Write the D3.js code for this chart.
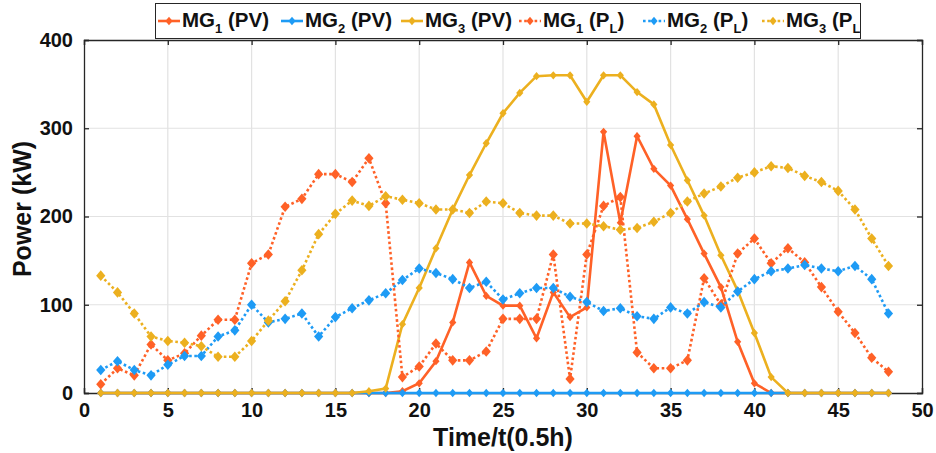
<!DOCTYPE html>
<html><head><meta charset="utf-8">
<script src="https://cdn.jsdelivr.net/npm/d3@7"></script>
<style>body{margin:0;background:#fff}svg{display:block;font-family:"Liberation Sans",Arial,sans-serif;font-weight:bold}</style>
</head><body><svg id="c" width="936" height="453"></svg>
<script>
const time = d3.range(1, 49);
const mg1PV = [0,0,0,0,0,0,0,0,0,0,0,0,0,0,0,0,0,0,2,11,36,80,148,110,99,99,62,114,86,97,296,193,291,254,235,197,158,120,58,11,0,0,0,0,0,0,0,0];
const mg2PV = [0,0,0,0,0,0,0,0,0,0,0,0,0,0,0,0,0,0,0,0,0,0,0,0,0,0,0,0,0,0,0,0,0,0,0,0,0,0,0,0,0,0,0,0,0,0,0,0];
const mg3PV = [0,0,0,0,0,0,0,0,0,0,0,0,0,0,0,0,2,5,78,119,164,208,247,283,317,340,359,360,360,330,360,360,341,327,281,241,201,156,116,68,18,0,0,0,0,0,0,0];
const mg1PL = [10,28,20,55,37,45,65,83,83,147,157,211,220,248,248,239,266,215,18,30,56,37,37,47,84,84,84,157,16,157,212,222,46,28,28,37,130,100,158,175,147,164,148,120,92,68,40,24];
const mg2PL = [26,36,26,20,32,42,42,64,71,100,80,84,90,64,86,96,105,113,128,141,136,129,119,126,106,113,119,119,109,103,93,96,87,84,97,90,103,97,115,129,138,141,145,141,138,144,129,90];
const mg3PL = [133,114,90,64,59,57,53,41,41,59,82,104,139,180,203,218,212,223,219,215,208,208,204,217,215,204,201,201,192,192,189,185,187,194,204,217,226,234,244,250,257,255,246,239,229,208,175,144];
const xTicks = [0,5,10,15,20,25,30,35,40,45,50];
const yTicks = [0,100,200,300,400];
const seriesNames = ["MG1 (PV)","MG2 (PV)","MG3 (PV)","MG1 (PL)","MG2 (PL)","MG3 (PL)"];
const colors = ["#FF6127","#1E9BF5","#ECB01F","#FF6127","#1E9BF5","#ECB01F"];

const svg = d3.select("#c");
const L=84, R=922, T=40, B=393;
const x = d3.scaleLinear().domain([0,50]).range([L,R]);
const y = d3.scaleLinear().domain([0,400]).range([B,T]);

// grid
const g = svg.append("g");
g.selectAll(".gx").data(xTicks.slice(1,-1)).enter().append("line")
 .attr("x1",d=>x(d)).attr("x2",d=>x(d)).attr("y1",T).attr("y2",B)
 .attr("stroke","#e2e2e2").attr("stroke-width",1.2);
g.selectAll(".gy").data(yTicks.slice(1,-1)).enter().append("line")
 .attr("y1",d=>y(d)).attr("y2",d=>y(d)).attr("x1",L).attr("x2",R)
 .attr("stroke","#e2e2e2").attr("stroke-width",1.2);

// axes
const ax = d3.axisBottom(x).tickValues(xTicks).tickSize(-5).tickPadding(10);
const ay = d3.axisLeft(y).tickValues(yTicks).tickSize(-5).tickPadding(11);
const gx = svg.append("g").attr("transform",`translate(0,${B})`).call(ax);
const gy = svg.append("g").attr("transform",`translate(${L},0)`).call(ay);
const gx2 = svg.append("g").attr("transform",`translate(0,${T})`).call(d3.axisTop(x).tickValues(xTicks).tickSize(-5).tickFormat(""));
const gy2 = svg.append("g").attr("transform",`translate(${R},0)`).call(d3.axisRight(y).tickValues(yTicks).tickSize(-5).tickFormat(""));
[gx,gy,gx2,gy2].forEach(a=>{
  a.selectAll("path,line").attr("stroke","#262626").attr("stroke-width",1.3);
  a.selectAll("text").attr("fill","#111").style("font-size","20px").style("font-weight","bold").style("font-family","'Liberation Sans',Arial,sans-serif");
});

svg.append("text").attr("x",(L+R)/2).attr("y",446).attr("text-anchor","middle")
 .style("font-size","25px").attr("fill","#111").text("Time/t(0.5h)");
svg.append("text").attr("transform","translate(31,209) rotate(-90)").attr("text-anchor","middle")
 .style("font-size","25px").attr("fill","#111").text("Power (kW)");

const all = [mg1PV,mg2PV,mg3PV,mg1PL,mg2PL,mg3PL];
const line = d3.line().x((d,i)=>x(time[i])).y(d=>y(d));
const diamond = (s)=>`M0,${-s*1.15}L${s},0L0,${s*1.15}L${-s},0Z`;

all.forEach((vals,k)=>{
  const dotted = k>=3;
  svg.append("path").datum(vals).attr("d",line).attr("fill","none")
    .attr("stroke",colors[k]).attr("stroke-width",2.6)
    .attr("stroke-dasharray",dotted?"2.6,2.6":null);
  svg.append("g").selectAll("path").data(vals).enter().append("path")
    .attr("transform",(d,i)=>`translate(${x(time[i])},${y(d)})`)
    .attr("d",diamond(dotted?4.6:3.6)).attr("fill",colors[k]);
});

// legend
const lg = svg.append("g");
lg.append("rect").attr("x",155.5).attr("y",3.5).attr("width",705).attr("height",35)
  .attr("fill","#fff").attr("stroke","#262626").attr("stroke-width",1);
svg.append("clipPath").attr("id","lc").append("rect").attr("x",156).attr("y",4).attr("width",704).attr("height",34);
const items = lg.append("g").attr("clip-path","url(#lc)");
const sx = [158,281,401,519,643,762];
const cy = 21;
seriesNames.forEach((n,k)=>{
  const dotted = k>=3;
  items.append("line").attr("x1",sx[k]).attr("x2",sx[k]+22).attr("y1",cy).attr("y2",cy)
    .attr("stroke",colors[k]).attr("stroke-width",2.6).attr("stroke-dasharray",dotted?"2.6,2.6":null);
  items.append("path").attr("transform",`translate(${sx[k]+11},${cy})`).attr("d",diamond(3.6)).attr("fill",colors[k]);
  const t = items.append("text").attr("x",sx[k]+24).attr("y",cy+6).style("font-size","20.5px").attr("fill","#111");
  const num = n.slice(2,3), pv = n.indexOf("PV")>=0;
  t.append("tspan").text("MG");
  t.append("tspan").attr("dy",6).style("font-size","13px").text(num);
  if(pv){ t.append("tspan").attr("dy",-6).text(" (PV)"); }
  else {
    t.append("tspan").attr("dy",-6).text(" (P");
    t.append("tspan").attr("dy",6).style("font-size","13px").text("L");
    t.append("tspan").attr("dy",-6).text(")");
  }
});
</script></body></html>
